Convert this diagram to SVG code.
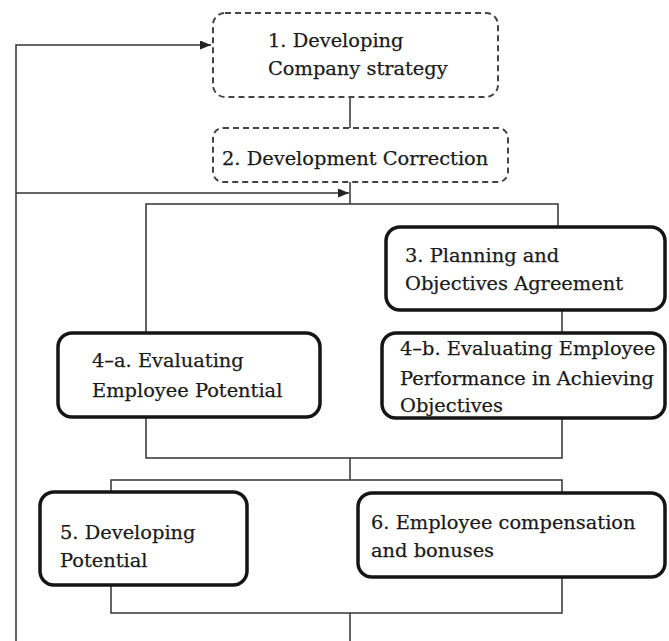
<svg xmlns="http://www.w3.org/2000/svg" width="669" height="641" viewBox="0 0 669 641">
<style>
.t{font-family:"DejaVu Serif","Liberation Serif",serif;font-size:19.4px;fill:#1a1a1a;stroke:#1a1a1a;stroke-width:0.25}
.dash{fill:#fff;stroke:#444;stroke-width:2;stroke-dasharray:6 4}
.solid{fill:#fff;stroke:#151515;stroke-width:3.5}
.c{fill:none;stroke:#333;stroke-width:1.5}
</style>
<defs>
<marker id="ah" markerWidth="11" markerHeight="9" refX="11" refY="4.5" orient="auto" markerUnits="userSpaceOnUse">
<path d="M0,0 L11,4.5 L0,9 Z" fill="#222"/>
</marker>
</defs>
<rect width="669" height="641" fill="#fff"/>
<g id="connectors">
<polyline class="c" points="16,641 16,45 211,45" marker-end="url(#ah)"/>
<polyline class="c" points="16,193 349,193" marker-end="url(#ah)"/>
<line class="c" x1="350" y1="97" x2="350" y2="128"/>
<line class="c" x1="350" y1="182" x2="350" y2="204"/>
<polyline class="c" points="146,333 146,204 558,204 558,227"/>
<line class="c" x1="562" y1="310" x2="562" y2="333"/>
<polyline class="c" points="146,417 146,458 562,458 562,418"/>
<line class="c" x1="350" y1="458" x2="350" y2="480"/>
<polyline class="c" points="111,492 111,480 562,480 562,493"/>
<polyline class="c" points="111,585 111,613 562,613 562,577"/>
<line class="c" x1="350" y1="613" x2="350" y2="641"/>
</g>
<g id="n1">
<rect class="dash" x="213" y="13" width="285" height="84" rx="12"/>
<text class="t" x="268" y="47">1. Developing</text>
<text class="t" x="268" y="75">Company strategy</text>
</g>
<g id="n2">
<rect class="dash" x="213" y="128" width="295" height="54" rx="10"/>
<text class="t" x="222" y="165">2. Development Correction</text>
</g>
<g id="n3">
<rect class="solid" x="386" y="227" width="279" height="83" rx="14"/>
<text class="t" x="405" y="262">3. Planning and</text>
<text class="t" x="405" y="290">Objectives Agreement</text>
</g>
<g id="n4a">
<rect class="solid" x="58" y="333" width="262" height="84" rx="14"/>
<text class="t" x="92" y="367">4–a. Evaluating</text>
<text class="t" x="92" y="397">Employee Potential</text>
</g>
<g id="n4b">
<rect class="solid" x="382" y="333" width="283" height="85" rx="14"/>
<text class="t" x="400" y="355">4–b. Evaluating Employee</text>
<text class="t" x="400" y="385">Performance in Achieving</text>
<text class="t" x="400" y="412">Objectives</text>
</g>
<g id="n5">
<rect class="solid" x="40" y="492" width="207" height="93" rx="14"/>
<text class="t" x="60" y="539">5. Developing</text>
<text class="t" x="60" y="567">Potential</text>
</g>
<g id="n6">
<rect class="solid" x="358" y="493" width="307" height="84" rx="14"/>
<text class="t" x="371" y="529">6. Employee compensation</text>
<text class="t" x="371" y="557">and bonuses</text>
</g>
</svg>
